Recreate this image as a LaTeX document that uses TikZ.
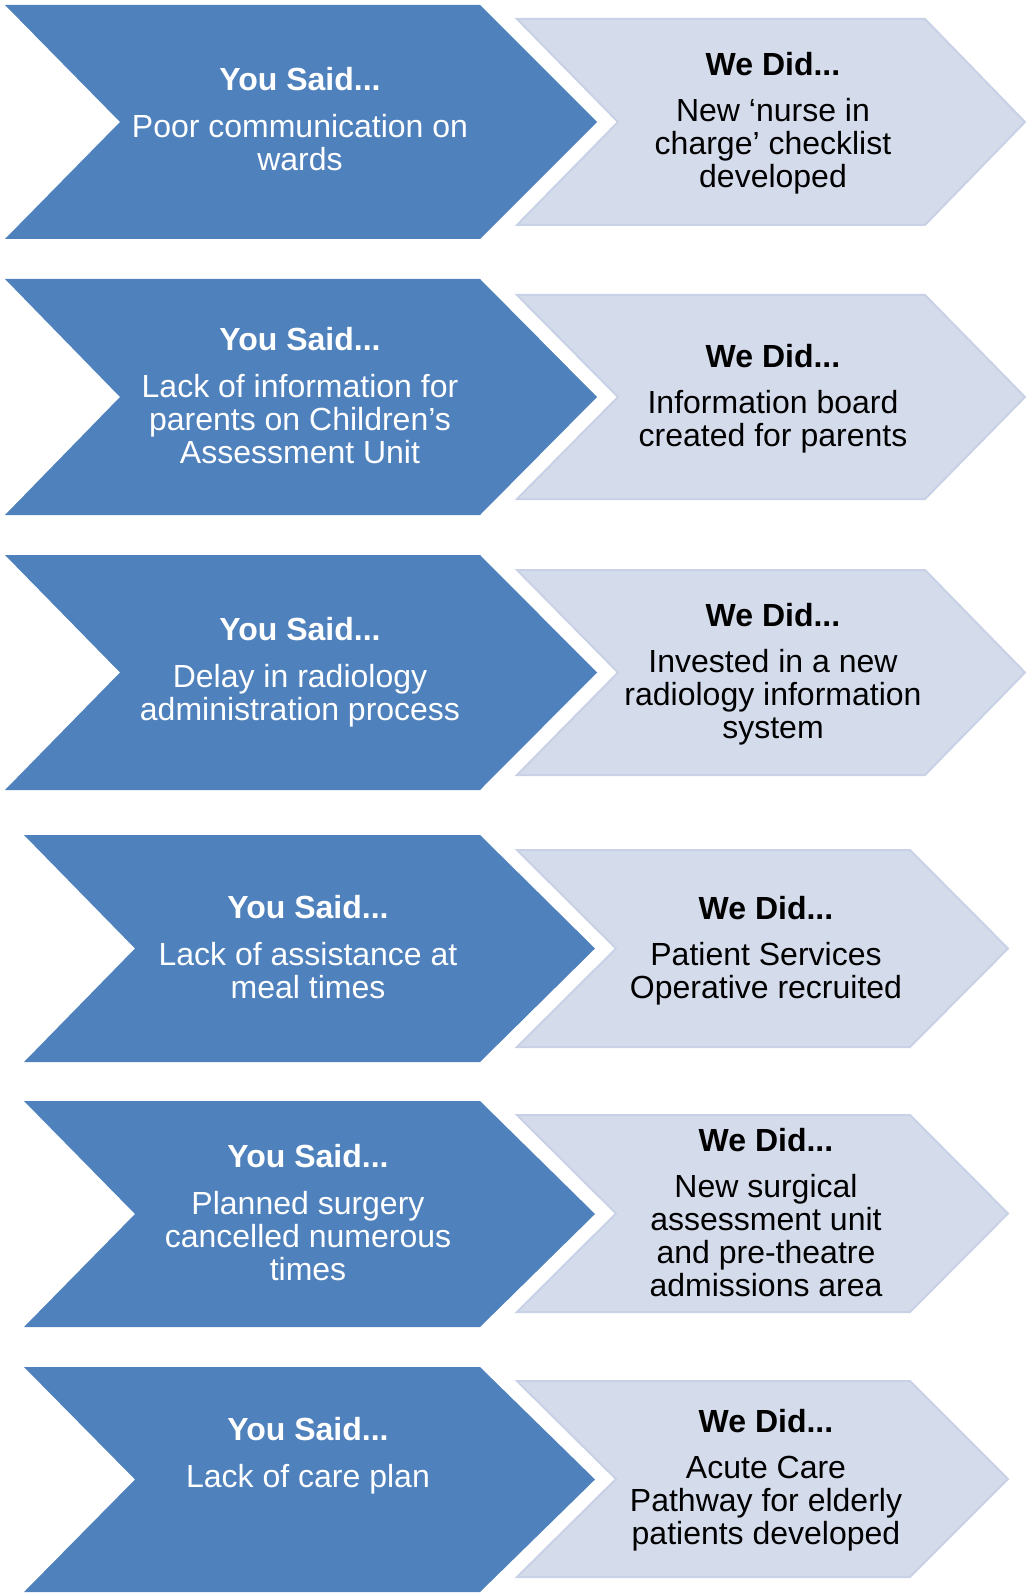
\documentclass[tikz,border=0pt]{standalone}
\usepackage{fontspec}
\setmainfont{Liberation Sans}
\usepackage{xcolor}
\definecolor{said}{RGB}{79,129,189}
\definecolor{did}{RGB}{212,219,235}
\definecolor{didline}{RGB}{200,209,229}
\usepackage{tikz}
\usetikzlibrary{positioning}
\tikzstyle{saidshape} = [
    fill=said,
]
\tikzstyle{didshape} = [
    fill=did,
    draw=didline,
    line width=2pt,
    line join=miter,
]
\tikzstyle{txt} = [
    align=center,
    inner sep=0pt,
    font=\fontsize{32}{33}\selectfont,
]
\tikzstyle{saidtext} = [
    txt,
    text=white,
]
\tikzstyle{didtext} = [
    txt,
    text=black,
]

\begin{document}
\begin{tikzpicture}[x=1pt, y=-1pt]
    \useasboundingbox (0,0) rectangle (1027,1594);

    % you said shapes
    \foreach \xl/\xn/\xr/\xt/\yt/\yb in {5/120/480/597/5/239, 5/120/480/597/279/515,
        5/120/480/597/555/790, 24/135/480/595/835/1062, 24/135/480/595/1101/1327,
        24/135/480/595/1367/1592} {
        \fill [saidshape] (\xl,\yt) -- (\xr,\yt) -- (\xt,{(\yt+\yb)/2})
            -- (\xr,\yb) -- (\xl,\yb) -- (\xn,{(\yt+\yb)/2}) -- cycle;
    }

    % we did shapes
    \foreach \xl/\xn/\xr/\xt/\yt/\yb in {517/618/925/1025/19/225, 517/618/925/1025/295/499,
        517/618/925/1025/570/775, 517/616/910/1008/850/1047, 517/616/910/1008/1115/1312,
        517/616/910/1008/1381/1577} {
        \draw [didshape] (\xl,\yt) -- (\xr,\yt) -- (\xt,{(\yt+\yb)/2})
            -- (\xr,\yb) -- (\xl,\yb) -- (\xn,{(\yt+\yb)/2}) -- cycle;
    }

    % texts
    \node (said1) [saidtext] at (300,119.5) {\textbf{You Said...}\\[14pt]
        Poor communication on\\ wards};
    \node (did1) [didtext] at (773,123) {\textbf{We Did...}\\[13pt]
        New ‘nurse in\\ charge’ checklist\\ developed};

    \node (said2) [saidtext] at (300,395.5) {\textbf{You Said...}\\[14pt]
        Lack of information for\\ parents on Children’s\\ Assessment Unit};
    \node (did2) [didtext] at (773,398.5) {\textbf{We Did...}\\[13pt]
        Information board\\ created for parents};

    \node (said3) [saidtext] at (300,672) {\textbf{You Said...}\\[14pt]
        Delay in radiology\\ administration process};
    \node (did3) [didtext] at (773,674) {\textbf{We Did...}\\[13pt]
        Invested in a new\\ radiology information\\ system};

    \node (said4) [saidtext] at (308,947.5) {\textbf{You Said...}\\[14pt]
        Lack of assistance at\\ meal times};
    \node (did4) [didtext] at (766,950.5) {\textbf{We Did...}\\[13pt]
        Patient Services\\ Operative recruited};

    \node (said5) [saidtext] at (308,1213) {\textbf{You Said...}\\[14pt]
        Planned surgery\\ cancelled numerous\\ times};
    \node (did5) [didtext] at (766,1213) {\textbf{We Did...}\\[13pt]
        New surgical\\ assessment unit\\ and pre-theatre\\ admissions area};

    \node (said6) [saidtext] at (308,1455.5) {\textbf{You Said...}\\[14pt]
        Lack of care plan};
    \node (did6) [didtext] at (766,1480.5) {\textbf{We Did...}\\[13pt]
        Acute Care\\ Pathway for elderly\\ patients developed};
\end{tikzpicture}
\end{document}
